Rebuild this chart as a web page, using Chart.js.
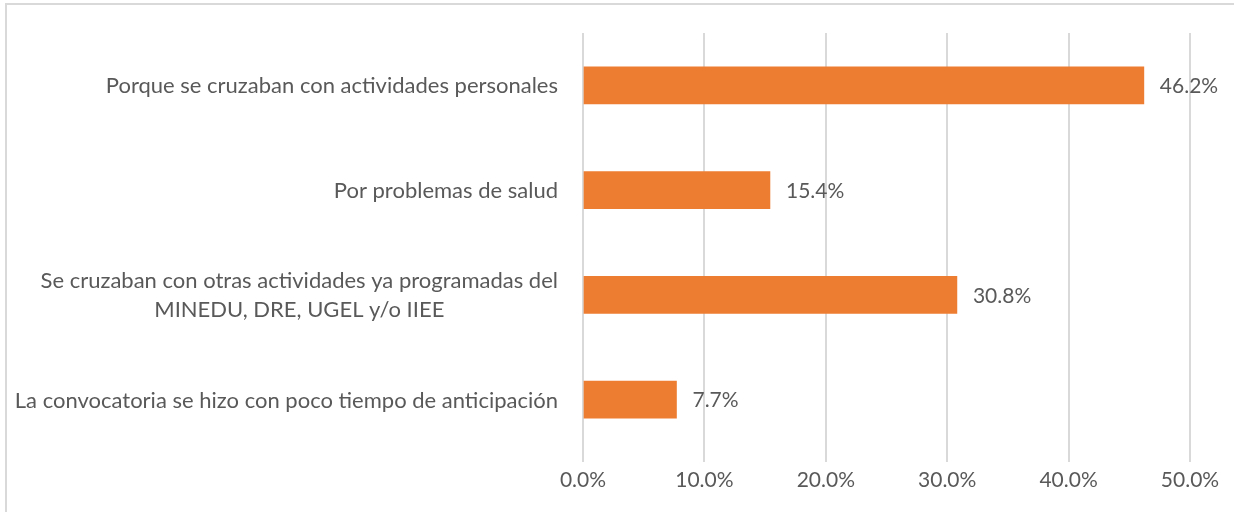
<!DOCTYPE html>
<html>
<head>
<meta charset="utf-8">
<script src="https://cdn.jsdelivr.net/npm/chart.js@4/dist/chart.umd.min.js"></script>
<style>
  html, body { margin: 0; padding: 0; background: #fff; }
  #wrap { position: relative; width: 1234px; height: 512px; overflow: hidden; }
  #frame { position: absolute; left: 5px; top: 3px; width: 1300px; height: 600px; border: 2px solid #d9d9d9; pointer-events: none; }
</style>
</head>
<body>
<div id="wrap">
  <canvas id="reasons-chart" width="1234" height="512"></canvas>
  <div id="frame"></div>
</div>
<script>
// Categories (top to bottom), multi-line where the original wraps
const reasons = [
  ['Porque se cruzaban con actividades personales'],
  ['Por problemas de salud'],
  ['Se cruzaban con otras actividades ya programadas del', 'MINEDU, DRE, UGEL y/o IIEE'],
  ['La convocatoria se hizo con poco tiempo de anticipación']
];

// Percentages
const percents = [46.2, 15.4, 30.8, 7.7];

// Value axis ticks
const tickValues = [0, 10, 20, 30, 40, 50];

const textColor = '#595959';
const fontFamily = 'Lato, "Open Sans", sans-serif';
const fontSize = 21;
const categoryFontSize = 22;

// Draws the value labels next to each bar
const valueLabels = {
  id: 'valueLabels',
  afterDatasetsDraw(chart) {
    const ctx = chart.ctx;
    const meta = chart.getDatasetMeta(0);
    ctx.save();
    ctx.font = fontSize + 'px ' + fontFamily;
    ctx.fillStyle = textColor;
    ctx.textAlign = 'left';
    ctx.textBaseline = 'middle';
    meta.data.forEach((bar, i) => {
      ctx.fillText(percents[i].toFixed(1) + '%', bar.x + 16, bar.y + 1);
    });
    ctx.restore();
  }
};

// Category labels: block right aligned, lines centred inside the block
const categoryLabels = {
  id: 'categoryLabels',
  afterDraw(chart) {
    const ctx = chart.ctx;
    const yScale = chart.scales.y;
    const rightEdge = chart.chartArea.left - 25;
    const lineHeight = 29;
    ctx.save();
    ctx.font = categoryFontSize + 'px ' + fontFamily;
    ctx.fillStyle = textColor;
    ctx.textAlign = 'center';
    ctx.textBaseline = 'middle';
    reasons.forEach((lines, i) => {
      const y = yScale.getPixelForValue(i);
      const blockWidth = Math.max(...lines.map(l => ctx.measureText(l).width));
      const cx = rightEdge - blockWidth / 2;
      const top = y - (lines.length - 1) * lineHeight / 2;
      lines.forEach((line, j) => {
        ctx.fillText(line, cx, top + j * lineHeight + 1);
      });
    });
    ctx.restore();
  }
};

new Chart(document.getElementById('reasons-chart'), {
  type: 'bar',
  data: {
    labels: reasons,
    datasets: [{
      data: percents,
      backgroundColor: '#ED7D31',
      barThickness: 37
    }]
  },
  options: {
    indexAxis: 'y',
    responsive: false,
    animation: false,
    layout: { padding: { left: 0, right: 44, top: 33, bottom: 0 } },
    plugins: {
      legend: { display: false },
      tooltip: { enabled: false }
    },
    scales: {
      x: {
        min: 0,
        max: 50,
        afterBuildTicks(scale) {
          scale.ticks = tickValues.map(v => ({ value: v }));
        },
        afterFit(scale) { scale.height = 60; },
        grid: { color: '#d9d9d9', lineWidth: 2, tickLength: 10, drawTicks: true },
        border: { display: false },
        ticks: {
          color: textColor,
          font: { family: fontFamily, size: fontSize },
          padding: 6,
          maxRotation: 0,
          callback: v => v.toFixed(1) + '%'
        }
      },
      y: {
        afterFit(scale) { scale.width = 583; },
        grid: { display: false },
        border: { display: false },
        ticks: { color: 'transparent', font: { family: fontFamily, size: categoryFontSize } }
      }
    }
  },
  plugins: [valueLabels, categoryLabels]
});
</script>
</body>
</html>
